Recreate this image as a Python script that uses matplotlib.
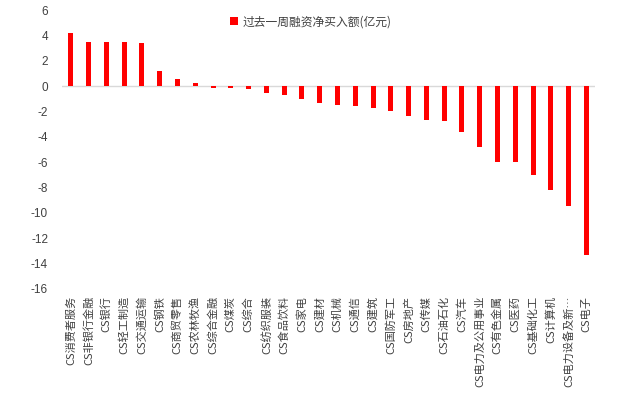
import matplotlib
matplotlib.use("Agg")
import matplotlib.pyplot as plt

plt.rcParams['font.family'] = ['Noto Sans CJK SC', 'DejaVu Sans']

categories = ["CS消费者服务", "CS非银行金融", "CS银行", "CS轻工制造", "CS交通运输", "CS钢铁",
              "CS商贸零售", "CS农林牧渔", "CS综合金融", "CS煤炭", "CS综合", "CS纺织服装",
              "CS食品饮料", "CS家电", "CS建材", "CS机械", "CS通信", "CS建筑", "CS国防军工",
              "CS房地产", "CS传媒", "CS石油石化", "CS汽车", "CS电力及公用事业", "CS有色金属",
              "CS医药", "CS基础化工", "CS计算机", "CS电力设备及新…", "CS电子"]
values = [4.2, 3.47, 3.46, 3.46, 3.42, 1.21, 0.58, 0.26, -0.14, -0.11, -0.24, -0.55,
          -0.71, -1.03, -1.34, -1.5, -1.58, -1.74, -1.97, -2.37, -2.68, -2.76, -3.63,
          -4.82, -6.0, -6.0, -7.03, -8.2, -9.47, -13.34]
series_name = "过去一周融资净买入额(亿元)"
yticks = [6, 4, 2, 0, -2, -4, -6, -8, -10, -12, -14, -16]

fig = plt.figure(figsize=(6.23, 4.04), dpi=100)
ax = fig.add_axes([0.0995, 0.285, 0.856, 0.69])
x = list(range(len(categories)))
ax.bar(x, values, width=0.28, color='#ff0000', label=series_name, zorder=3)
ax.axhline(0, color='#d9d9d9', linewidth=1.0, zorder=2)
ax.set_xlim(-0.5, len(categories) - 0.5)
ax.set_ylim(-16, 6)
ax.set_yticks(yticks)
ax.set_yticklabels([str(t) for t in yticks], fontsize=8.5, color='#404040', family=['Liberation Sans', 'DejaVu Sans'])
ax.set_xticks(x)
ax.set_xticklabels(categories, rotation=90, fontsize=8, color='#404040', va='top')
ax.tick_params(axis='both', length=0)
ax.tick_params(axis='x', pad=5)
ax.tick_params(axis='y', pad=10)
for s in ax.spines.values():
    s.set_visible(False)
leg = ax.legend(loc='upper center', bbox_to_anchor=(0.467, 1.02), frameon=False, fontsize=8.5,
                handlelength=0.7, handleheight=0.7, handletextpad=0.4)
for t in leg.get_texts():
    t.set_color('#404040')
fig.savefig("out.png", dpi=100)
